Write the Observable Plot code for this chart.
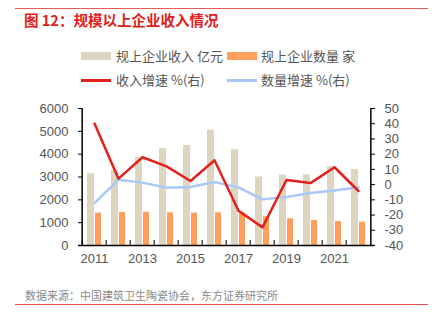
<!DOCTYPE html>
<html><head><meta charset="utf-8">
<script src="https://cdn.jsdelivr.net/npm/d3@7"></script>
<script src="https://cdn.jsdelivr.net/npm/@observablehq/plot@0.6"></script>
<style>
body{margin:0;background:#fff;font-family:"Noto Sans CJK SC","DejaVu Sans",sans-serif;}
#wrap{position:relative;width:438px;height:324px;overflow:hidden;}
.abs{position:absolute;white-space:nowrap;}
.lg{font-size:13px;color:#555;line-height:16px;}
#chart{position:absolute;left:0;top:100px;}
</style></head><body>
<div id="wrap">
  <div class="abs" style="left:15px;top:8px;width:413px;height:1px;background:#e55a55;"></div>
  <div class="abs" style="left:24px;top:11px;font-size:14.5px;font-weight:bold;color:#e0201b;line-height:18px;">图 12：规模以上企业收入情况</div>
  <div id="legend"></div>
  <div id="chart"></div>
  <div class="abs" style="left:25px;top:288px;font-size:11px;color:#8a8a8a;line-height:15px;">数据来源：中国建筑卫生陶瓷协会，东方证券研究所</div>
  <div class="abs" style="left:15px;top:304px;width:413px;height:1px;background:#e5504a;"></div>
</div>
<script>
const years = ["2011","2012","2013","2014","2015","2016","2017","2018","2019","2020","2021","2022"];
const revenue = [3150, 3300, 3850, 4250, 4380, 5050, 4200, 3000, 3080, 3100, 3450, 3330];
const companies = [1420, 1450, 1460, 1430, 1420, 1430, 1430, 1260, 1170, 1100, 1050, 1020];
const revenueGrowth = [40.1, 3.9, 18.0, 12.0, 2.4, 16.0, -17.2, -28.1, 3.0, 1.0, 11.4, -4.2];
const countGrowth = [-12.1, 3.2, 1.3, -2.0, -1.6, 1.7, -1.8, -9.7, -8.2, -5.5, -3.8, -1.8];
const leftTicks = [0, 1000, 2000, 3000, 4000, 5000, 6000];
const rightTicks = [-40, -30, -20, -10, 0, 10, 20, 30, 40, 50];
const xLabels = ["2011","2013","2015","2017","2019","2021"];
const seriesNames = ["规上企业收入 亿元","规上企业数量 家","收入增速 %(右)","数量增速 %(右)"];
const colors = ["#ddd5bf","#ff9f5b","#e3211c","#a9c8f8"];

// right axis (-40..50) mapped onto left axis (0..6000)
const toLeft = v => (v + 40) * 6000 / 90;
const fromLeft = y => y * 90 / 6000 - 40;

const rows = years.map((y, i) => ({year: y, rev: revenue[i], cnt: companies[i], rg: toLeft(revenueGrowth[i]), cg: toLeft(countGrowth[i])}));

// legend
const lg = document.getElementById("legend");
const pos = [[81,116,56,"bar"],[227,261,56,"bar"],[81,116,80,"line"],[227,261,80,"line"]];
seriesNames.forEach((n, i) => {
  const [sx, tx, cy, kind] = pos[i];
  const sw = document.createElement("div");
  sw.className = "abs";
  const h = kind === "bar" ? 8 : 3;
  sw.style.cssText = `left:${sx}px;top:${cy - h/2}px;width:30px;height:${h}px;background:${colors[i]};`;
  lg.appendChild(sw);
  const t = document.createElement("div");
  t.className = "abs lg";
  t.style.left = tx + "px";
  t.style.top = (cy - 8) + "px";
  t.textContent = n;
  lg.appendChild(t);
});

const W = 438, H = 170;
const mL = 78, mR = 64;
const bw = (W - mL - mR) / years.length;

const chart = Plot.plot({
  width: W, height: H,
  marginLeft: mL, marginRight: mR, marginTop: 8, marginBottom: 25,
  style: {fontFamily: "Liberation Sans, Arial, sans-serif", fontSize: "13px", color: "#555", background: "transparent"},
  x: {type: "band", domain: years, padding: 0, axis: null},
  y: {domain: [0, 6000], axis: null},
  marks: [
    Plot.barY(rows, {x: "year", y: "rev", fill: colors[0], insetLeft: 5, insetRight: 12}),
    Plot.barY(rows, {x: "year", y: "cnt", fill: colors[1], insetLeft: 13, insetRight: 5}),
    Plot.lineY(rows, {x: "year", y: "cg", stroke: colors[3], strokeWidth: 2.5}),
    Plot.lineY(rows, {x: "year", y: "rg", stroke: colors[2], strokeWidth: 2.5}),
    Plot.axisY(leftTicks, {anchor: "left", label: null, tickSize: -4, tickPadding: 14, tickFormat: d => String(d), stroke: "#000", fill: "#555", fontSize: 13}),
    Plot.axisY(rightTicks.map(toLeft), {anchor: "right", label: null, tickSize: -4, tickPadding: 14, tickFormat: d => String(Math.round(fromLeft(d))), stroke: "#000", fill: "#555", fontSize: 13}),
    Plot.axisX(years, {anchor: "bottom", label: null, tickSize: -5, tickFormat: () => "", dx: -bw / 2, stroke: "#000"}),
    Plot.axisX(xLabels, {anchor: "bottom", label: null, tickSize: 0, tickPadding: 8, fill: "#555", fontSize: 13}),
    Plot.ruleY([0], {stroke: "#000", strokeWidth: 1.5}),
    Plot.ruleX([years[0]], {y1: 0, y2: 6000, dx: -bw / 2, stroke: "#000", strokeWidth: 1.5}),
    Plot.ruleX([years[years.length - 1]], {y1: 0, y2: 6000, dx: bw / 2, stroke: "#000", strokeWidth: 1.5})
  ]
});
document.getElementById("chart").appendChild(chart);
</script>
</body></html>
